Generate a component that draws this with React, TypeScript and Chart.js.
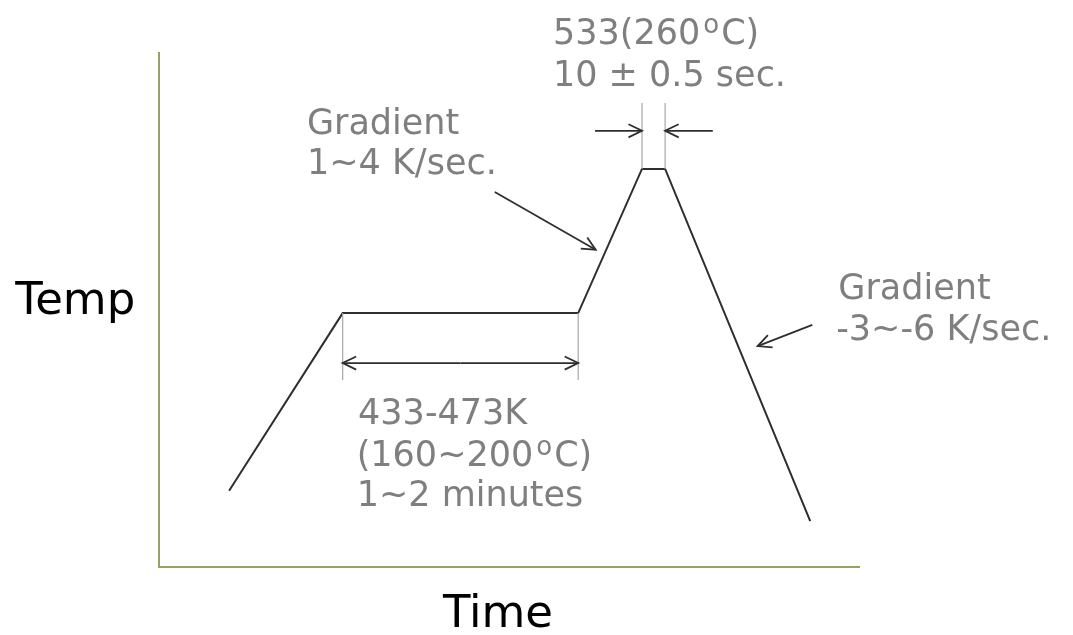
import React, { useEffect, useRef } from "react";
import { Chart, registerables } from "chart.js";
Chart.register(...registerables);

// Schematic units: time 0..100, temperature 0..100
const profileTime = [10, 26.2, 59.8, 68.9, 72.2, 92.9];
const profileTemp = [14.8, 49.3, 49.3, 77.3, 77.3, 8.9];

const frameTime = [0, 0, 100];
const frameTemp = [100, 0, 0];

const guideTime = [26.2, 59.8, 68.9, 72.2];
const guideFrom = [49.3, 49.3, 77.3, 77.3];
const guideTo = [36.3, 36.3, 90.1, 90.1];

const arrowFromX = [47.9, 93.2, 43.0, 43.0, 62.2, 79.0];
const arrowFromY = [72.8, 47.0, 39.6, 39.6, 84.7, 84.7];
const arrowToX = [62.3, 85.4, 26.2, 59.8, 68.9, 72.2];
const arrowToY = [61.6, 42.9, 39.6, 39.6, 84.7, 84.7];

const noteTexts = [
  "533(260ºC)",
  "10 ± 0.5 sec.",
  "Gradient",
  "1~4 K/sec.",
  "Gradient",
  "-3~-6 K/sec.",
  "433-473K",
  "(160~200ºC)",
  "1~2 minutes",
];
const noteX = [56.2, 56.2, 21.1, 21.1, 96.9, 96.6, 28.4, 28.2, 28.2];
const noteY = [101.6, 93.4, 84.1, 76.3, 52.0, 44.1, 27.8, 19.6, 11.8];

const axisTexts = ["Temp", "Time"];
const axisTextX = [-20.5, 40.5];
const axisTextY = [49.1, -11.7];

const GRAY = "#7f7f7f";
const LINE = "#2e2e2e";
const FRAME = "#98a064";

function drawArrow(ctx: CanvasRenderingContext2D, x1: number, y1: number, x2: number, y2: number) {
  ctx.beginPath();
  ctx.moveTo(x1, y1);
  ctx.lineTo(x2, y2);
  ctx.stroke();
  const a = Math.atan2(y2 - y1, x2 - x1);
  const len = 15;
  const spread = 0.45;
  ctx.beginPath();
  ctx.moveTo(x2 - len * Math.cos(a - spread), y2 - len * Math.sin(a - spread));
  ctx.lineTo(x2, y2);
  ctx.lineTo(x2 - len * Math.cos(a + spread), y2 - len * Math.sin(a + spread));
  ctx.stroke();
}

function drawNote(ctx: CanvasRenderingContext2D, text: string, x: number, y: number, size: number) {
  const parts = text.split("º");
  let cx = x;
  parts.forEach((p, i) => {
    ctx.font = `${size}px "DejaVu Sans"`;
    ctx.fillText(p, cx, y);
    cx += ctx.measureText(p).width;
    if (i < parts.length - 1) {
      const s = Math.round(size * 0.74);
      ctx.font = `${s}px "DejaVu Sans"`;
      ctx.fillText("o", cx + 3, y - size * 0.31);
      cx += ctx.measureText("o").width + 5;
    }
  });
}

const annotations = {
  id: "annotations",
  afterDatasetsDraw(chart: any) {
    const ctx: CanvasRenderingContext2D = chart.ctx;
    const xs = chart.scales.x;
    const ys = chart.scales.y;
    ctx.save();
    ctx.strokeStyle = LINE;
    ctx.lineWidth = 1.8;
    for (let i = 0; i < arrowFromX.length; i++) {
      drawArrow(
        ctx,
        xs.getPixelForValue(arrowFromX[i]),
        ys.getPixelForValue(arrowFromY[i]),
        xs.getPixelForValue(arrowToX[i]),
        ys.getPixelForValue(arrowToY[i])
      );
    }
    ctx.textAlign = "left";
    ctx.textBaseline = "alphabetic";
    ctx.fillStyle = GRAY;
    for (let i = 0; i < noteTexts.length; i++) {
      drawNote(ctx, noteTexts[i], xs.getPixelForValue(noteX[i]), ys.getPixelForValue(noteY[i]), 35);
    }
    ctx.fillStyle = "#000000";
    for (let i = 0; i < axisTexts.length; i++) {
      drawNote(ctx, axisTexts[i], xs.getPixelForValue(axisTextX[i]), ys.getPixelForValue(axisTextY[i]), 45);
    }
    ctx.restore();
  },
};

export default function App() {
  const ref = useRef<HTMLCanvasElement | null>(null);
  useEffect(() => {
    if (!ref.current) return;
    const guideSets = guideTime.map((t, i) => ({
      data: [
        { x: t, y: guideFrom[i] },
        { x: t, y: guideTo[i] },
      ],
      showLine: true,
      borderColor: "#a8a8a8",
      borderWidth: 1.2,
      pointRadius: 0,
      clip: false as any,
    }));
    const chart = new Chart(ref.current, {
      type: "scatter",
      data: {
        datasets: [
          {
            data: frameTime.map((t, i) => ({ x: t, y: frameTemp[i] })),
            showLine: true,
            borderColor: FRAME,
            borderWidth: 2,
            pointRadius: 0,
            clip: false as any,
          },
          ...guideSets,
          {
            data: profileTime.map((t, i) => ({ x: t, y: profileTemp[i] })),
            showLine: true,
            borderColor: LINE,
            borderWidth: 2,
            pointRadius: 0,
            clip: false as any,
          },
        ],
      },
      options: {
        animation: false,
        responsive: false,
        devicePixelRatio: 1,
        layout: { padding: { left: 159, right: 213, top: 52, bottom: 68 } },
        plugins: { legend: { display: false }, tooltip: { enabled: false }, title: { display: false } },
        scales: {
          x: { type: "linear", min: 0, max: 100, display: false },
          y: { type: "linear", min: 0, max: 100, display: false },
        },
      },
      plugins: [annotations],
    });
    return () => chart.destroy();
  }, []);
  return (
    <div style={{ position: "fixed", left: 0, top: 0, width: 1073, height: 635, background: "#fff" }}>
      <canvas ref={ref} width={1073} height={635} style={{ width: 1073, height: 635, display: "block" }} />
    </div>
  );
}
